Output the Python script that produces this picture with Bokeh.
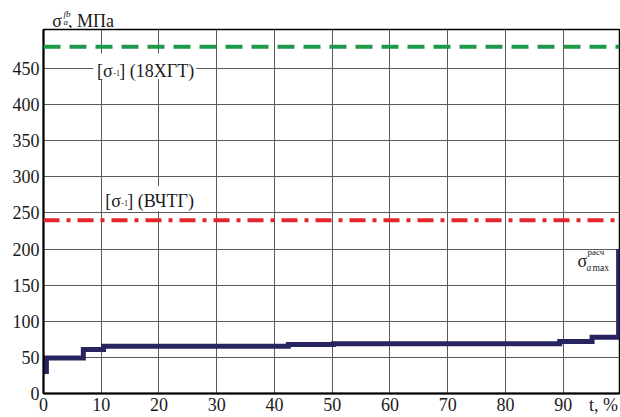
from bokeh.plotting import figure
from bokeh.models import Label, FixedTicker, BoxAnnotation, Span, Range1d
from bokeh.layouts import column
from bokeh.embed import file_html
from bokeh.resources import INLINE

# ---- data ----
t_pct = [0.5, 0.5, 6.9, 10.4, 42.4, 50.2, 89.4, 95.0, 99.6]
sigma_a = [27, 49, 61, 65.5, 68, 69, 72, 78, 200]
limit_18hgt = 480
limit_vchtg = 240
x_ticks = [0, 10, 20, 30, 40, 50, 60, 70, 80, 90]
y_ticks = [0, 50, 100, 150, 200, 250, 300, 350, 400, 450]
x_title_pos = 97.0
x_tick_labels = {x_title_pos: "t, %"}

FONT = "Liberation Serif"
AX_FONT = "serif"
NAVY = "#27245f"
GREEN = "#1c9a4a"
RED = "#e3262b"
TXT = "#1a1a1a"
BASE_SHIFT = 3.5  # baseline correction (px)

W = 620
H = 417
HEAD_H = 28

# ---------- header strip with the y-axis title ----------
head = figure(width=W, height=HEAD_H, output_backend="svg", toolbar_location=None,
              x_range=Range1d(0, W), y_range=Range1d(0, HEAD_H),
              x_axis_type=None, y_axis_type=None, min_border=0,
              min_border_left=0, min_border_right=0, min_border_top=0,
              min_border_bottom=0)
head.title.visible = False
head.outline_line_color = None
head.grid.visible = False
head.background_fill_color = "white"
head.border_fill_color = "white"


def hlab(text, px, py, size, italic=False):
    # px, py: reference pixels
    head.add_layout(Label(x=px, y=HEAD_H - (py - BASE_SHIFT), text=text, text_font=FONT,
                          text_font_size=f"{size}px",
                          text_font_style="italic" if italic else "normal",
                          text_align="left", text_baseline="alphabetic",
                          text_color=TXT))


hlab("σ", 9.5, 23.5, 18)
hlab("fb", 21.5, 17, 9, italic=True)
hlab("a", 21.5, 25, 9, italic=True)
hlab(", МПа", 26.5, 23.5, 18)

# ---------- main chart ----------
p = figure(width=W, height=H - HEAD_H, output_backend="svg", toolbar_location=None,
           x_range=Range1d(0, 99.75), y_range=Range1d(0, 504),
           min_border_left=43, min_border_right=1, min_border_top=1,
           min_border_bottom=21)
p.title.visible = False
p.background_fill_color = "white"
p.border_fill_color = "white"
p.outline_line_color = "black"
p.outline_line_width = 1.5

p.xaxis.ticker = FixedTicker(ticks=x_ticks + [x_title_pos])
p.xaxis.major_label_overrides = x_tick_labels
p.yaxis.ticker = FixedTicker(ticks=y_ticks)
p.axis.major_tick_in = 0
p.axis.major_tick_out = 0
p.axis.minor_tick_in = 0
p.axis.minor_tick_out = 0
p.axis.axis_line_color = "black"
p.axis.axis_line_width = 2
p.axis.major_label_text_font = AX_FONT
p.axis.major_label_text_font_style = "normal"
p.axis.major_label_text_font_size = "18px"
p.axis.major_label_text_color = TXT
p.yaxis.major_label_standoff = 4
p.xaxis.major_label_standoff = 1
p.xgrid[0].ticker = FixedTicker(ticks=x_ticks)
p.xgrid.grid_line_color = "#5a5a5a"
p.ygrid.grid_line_color = "#5a5a5a"
p.xgrid.grid_line_width = 1
p.ygrid.grid_line_width = 1

# limit lines
p.add_layout(Span(location=limit_18hgt, dimension="width", line_color=GREEN,
                  line_width=4, line_dash="17 9"))
p.add_layout(Span(location=limit_vchtg, dimension="width", line_color=RED,
                  line_width=4, line_dash="16 7 4 7"))

# step series
p.step(t_pct, sigma_a, mode="after", line_width=5, line_color=NAVY,
       line_join="miter")


# helpers: positions measured in reference pixels -> data units
def rx(px):
    return (px - 43.3) / 5.771


def ry(py):
    return (396 - py) / 0.7284


def box(x0, x1, y0, y1):
    p.add_layout(BoxAnnotation(left=rx(x0), right=rx(x1), top=ry(y0), bottom=ry(y1),
                               fill_color="white", fill_alpha=1, line_alpha=0))


def lab(text, px, py, size, italic=False):
    p.add_layout(Label(x=rx(px), y=ry(py - BASE_SHIFT), text=text, text_font=FONT,
                       text_font_size=f"{size}px",
                       text_font_style="italic" if italic else "normal",
                       text_align="left", text_baseline="alphabetic",
                       text_color=TXT))


# green label
box(93, 196, 53, 79)
lab("[σ", 96.7, 74, 18)
lab("-1", 113, 76, 8)
lab("] (18ХГТ)", 119, 74, 18)

# red label
box(103, 199, 187, 212)
lab("[σ", 105, 205, 18)
lab("-1", 121, 207, 8)
lab("] (ВЧТГ)", 127, 205, 18)

# right label
lab("σ", 577, 266, 18)
lab("расч", 587, 257, 9)
lab("a", 586, 273, 9.5, italic=True)
lab("max", 592, 273, 9.5)

open("out.html", "w").write(file_html(column(head, p, spacing=0), INLINE))
